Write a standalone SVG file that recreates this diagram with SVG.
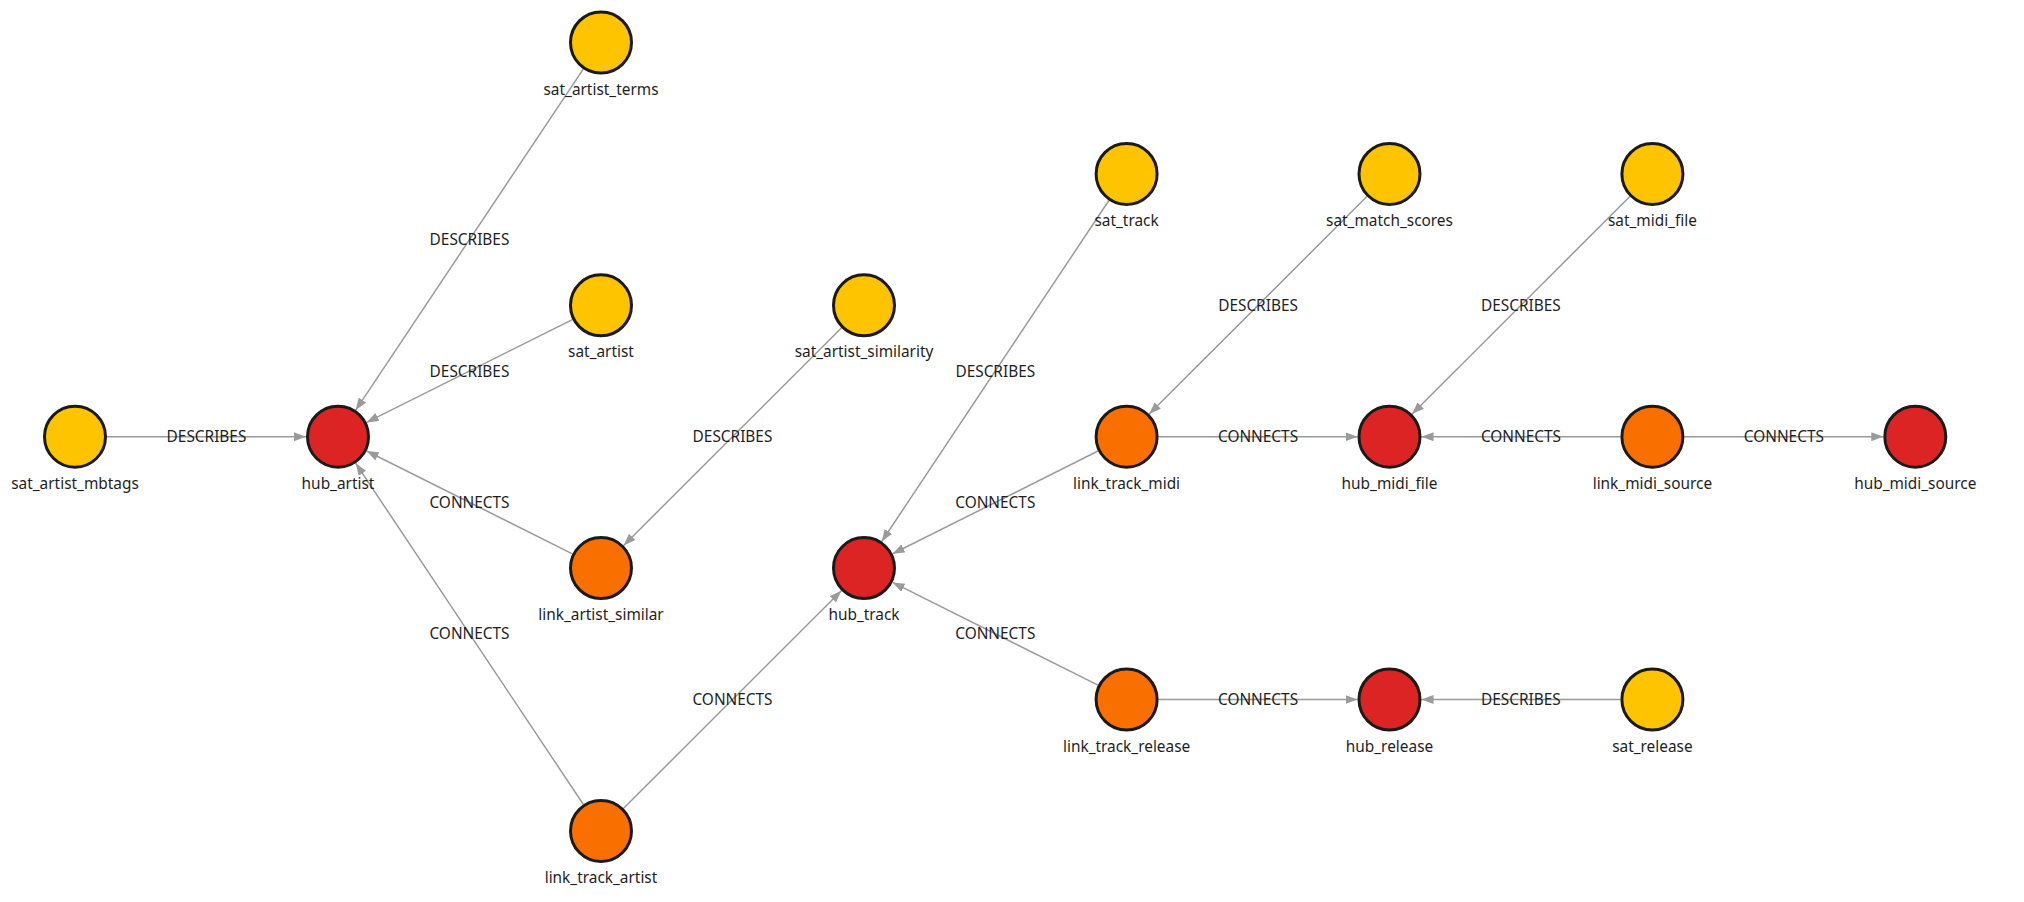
<svg xmlns="http://www.w3.org/2000/svg" width="2024" height="902" viewBox="0 0 2024 902">
<defs>
<marker id="arr" viewBox="0 0 12 9" refX="12" refY="4.5" markerWidth="12" markerHeight="9" markerUnits="userSpaceOnUse" orient="auto">
<path d="M0,0 L12,4.5 L0,9 z" fill="#9a9a9a"/>
</marker>
<style>
.e{stroke:#9a9a9a;stroke-width:1.5;fill:none;marker-end:url(#arr)}
.el{font-family:"Noto Sans","Open Sans",sans-serif;font-size:15.4px;fill:#1e1e1e;text-anchor:middle;dominant-baseline:central}
.n{stroke:#1a1a1a;stroke-width:3}
.sat{fill:#FFC400}
.link{fill:#FA7000}
.hub{fill:#DC2424}
.nl{font-family:"Noto Sans","Open Sans",sans-serif;font-size:15.4px;fill:#1e1e1e;text-anchor:middle}
</style>
</defs>
<rect width="2024" height="902" fill="#fff"/>
<g id="connectors">
<line class="e" x1="107" y1="436.7" x2="306" y2="436.7"/>
<text class="el" x="206.5" y="436.7">DESCRIBES</text>
<line class="e" x1="583.24" y1="69.12" x2="355.76" y2="410.08"/>
<text class="el" x="469.5" y="239.6">DESCRIBES</text>
<line class="e" x1="572.37" y1="319.6" x2="366.63" y2="422.4"/>
<text class="el" x="469.5" y="371">DESCRIBES</text>
<line class="e" x1="572.37" y1="553.8" x2="366.63" y2="451.0"/>
<text class="el" x="469.5" y="502.4">CONNECTS</text>
<line class="e" x1="583.24" y1="804.28" x2="355.76" y2="463.32"/>
<text class="el" x="469.5" y="633.8">CONNECTS</text>
<line class="e" x1="841.36" y1="327.92" x2="623.64" y2="545.48"/>
<text class="el" x="732.5" y="436.7">DESCRIBES</text>
<line class="e" x1="623.64" y1="808.28" x2="841.36" y2="590.72"/>
<text class="el" x="732.5" y="699.5">CONNECTS</text>
<line class="e" x1="1108.86" y1="200.53" x2="881.74" y2="541.47"/>
<text class="el" x="995.3" y="371">DESCRIBES</text>
<line class="e" x1="1097.98" y1="451.02" x2="892.62" y2="553.78"/>
<text class="el" x="995.3" y="502.4">CONNECTS</text>
<line class="e" x1="1097.98" y1="685.18" x2="892.62" y2="582.42"/>
<text class="el" x="995.3" y="633.8">CONNECTS</text>
<line class="e" x1="1366.87" y1="196.52" x2="1149.23" y2="414.08"/>
<text class="el" x="1258.05" y="305.3">DESCRIBES</text>
<line class="e" x1="1158.6" y1="436.7" x2="1357.5" y2="436.7"/>
<text class="el" x="1258.05" y="436.7">CONNECTS</text>
<line class="e" x1="1629.77" y1="196.52" x2="1412.13" y2="414.08"/>
<text class="el" x="1520.95" y="305.3">DESCRIBES</text>
<line class="e" x1="1620.4" y1="436.7" x2="1421.5" y2="436.7"/>
<text class="el" x="1520.95" y="436.7">CONNECTS</text>
<line class="e" x1="1684.4" y1="436.7" x2="1883.3" y2="436.7"/>
<text class="el" x="1783.85" y="436.7">CONNECTS</text>
<line class="e" x1="1158.6" y1="699.5" x2="1357.5" y2="699.5"/>
<text class="el" x="1258.05" y="699.5">CONNECTS</text>
<line class="e" x1="1620.4" y1="699.5" x2="1421.5" y2="699.5"/>
<text class="el" x="1520.95" y="699.5">DESCRIBES</text>
</g>
<g id="sat_artist_mbtags"><circle class="n sat" cx="75" cy="436.7" r="30.5"/><text class="nl" x="75" y="488.7">sat_artist_mbtags</text></g>
<g id="hub_artist"><circle class="n hub" cx="338" cy="436.7" r="30.5"/><text class="nl" x="338" y="488.7">hub_artist</text></g>
<g id="sat_artist_terms"><circle class="n sat" cx="601" cy="42.5" r="30.5"/><text class="nl" x="601" y="94.5">sat_artist_terms</text></g>
<g id="sat_artist"><circle class="n sat" cx="601" cy="305.3" r="30.5"/><text class="nl" x="601" y="357.3">sat_artist</text></g>
<g id="link_artist_similar"><circle class="n link" cx="601" cy="568.1" r="30.5"/><text class="nl" x="601" y="620.1">link_artist_similar</text></g>
<g id="link_track_artist"><circle class="n link" cx="601" cy="830.9" r="30.5"/><text class="nl" x="601" y="882.9">link_track_artist</text></g>
<g id="sat_artist_similarity"><circle class="n sat" cx="864" cy="305.3" r="30.5"/><text class="nl" x="864" y="357.3">sat_artist_similarity</text></g>
<g id="hub_track"><circle class="n hub" cx="864" cy="568.1" r="30.5"/><text class="nl" x="864" y="620.1">hub_track</text></g>
<g id="sat_track"><circle class="n sat" cx="1126.6" cy="173.9" r="30.5"/><text class="nl" x="1126.6" y="225.9">sat_track</text></g>
<g id="link_track_midi"><circle class="n link" cx="1126.6" cy="436.7" r="30.5"/><text class="nl" x="1126.6" y="488.7">link_track_midi</text></g>
<g id="link_track_release"><circle class="n link" cx="1126.6" cy="699.5" r="30.5"/><text class="nl" x="1126.6" y="751.5">link_track_release</text></g>
<g id="sat_match_scores"><circle class="n sat" cx="1389.5" cy="173.9" r="30.5"/><text class="nl" x="1389.5" y="225.9">sat_match_scores</text></g>
<g id="hub_midi_file"><circle class="n hub" cx="1389.5" cy="436.7" r="30.5"/><text class="nl" x="1389.5" y="488.7">hub_midi_file</text></g>
<g id="hub_release"><circle class="n hub" cx="1389.5" cy="699.5" r="30.5"/><text class="nl" x="1389.5" y="751.5">hub_release</text></g>
<g id="sat_midi_file"><circle class="n sat" cx="1652.4" cy="173.9" r="30.5"/><text class="nl" x="1652.4" y="225.9">sat_midi_file</text></g>
<g id="link_midi_source"><circle class="n link" cx="1652.4" cy="436.7" r="30.5"/><text class="nl" x="1652.4" y="488.7">link_midi_source</text></g>
<g id="sat_release"><circle class="n sat" cx="1652.4" cy="699.5" r="30.5"/><text class="nl" x="1652.4" y="751.5">sat_release</text></g>
<g id="hub_midi_source"><circle class="n hub" cx="1915.3" cy="436.7" r="30.5"/><text class="nl" x="1915.3" y="488.7">hub_midi_source</text></g>
</svg>
